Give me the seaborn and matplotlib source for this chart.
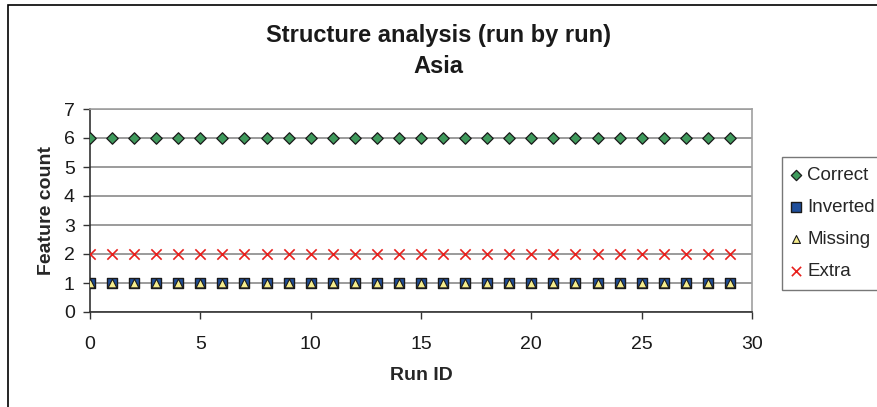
import matplotlib
matplotlib.use("Agg")
import matplotlib.pyplot as plt
from matplotlib.patches import Rectangle
import seaborn as sns
import pandas as pd

run_ids = list(range(30))
correct = [6] * 30
inverted = [1] * 30
missing = [1] * 30
extra = [2] * 30
series_names = ["Correct", "Inverted", "Missing", "Extra"]
x_ticks = [0, 5, 10, 15, 20, 25, 30]
y_ticks = [0, 1, 2, 3, 4, 5, 6, 7]

sns.set_theme(style="white")
plt.rcParams["font.family"] = ["Liberation Sans", "DejaVu Sans"]

df = pd.DataFrame({
    "Run ID": run_ids * 4,
    "Feature count": correct + inverted + missing + extra,
    "Series": sum([[n] * len(run_ids) for n in series_names], []),
})

fig = plt.figure(figsize=(8.77, 4.07), dpi=100)
ax = fig.add_axes([90 / 877, 1 - 312 / 407, 662 / 877, 203 / 407])

# outer chart frame
fig.patches.append(Rectangle((8 / 877, -0.05), 1.2, 1.05 - 5 / 407,
                             transform=fig.transFigure, fill=False,
                             edgecolor="black", linewidth=1.2, zorder=0))

styles = {
    "Correct": dict(marker="D", color="#3f9a5c", s=34, edgecolor="#1a1a1a", linewidth=0.9),
    "Inverted": dict(marker="s", color="#1f4f9c", s=62, edgecolor="#1a1a1a", linewidth=1.0),
    "Missing": dict(marker="^", color="#f5ec8c", s=40, edgecolor="#1a1a1a", linewidth=0.8),
    "Extra": dict(marker="x", color="#e8201c", s=55, linewidth=1.2),
}
for name in series_names:
    sub = df[df["Series"] == name]
    sns.scatterplot(data=sub, x="Run ID", y="Feature count", ax=ax,
                    label=name, zorder=3, **styles[name])

ax.set_xlim(0, 30)
ax.set_ylim(0, 7)
ax.set_xticks(x_ticks)
ax.set_yticks(y_ticks)
ax.yaxis.grid(True, color="#8a8a8a", linewidth=1.2)
ax.set_axisbelow(True)
ax.tick_params(axis="both", direction="out", length=5, width=1, color="#333333",
               labelsize=14, bottom=True, left=True, labelcolor="#1a1a1a", pad=6)
ax.tick_params(axis="x", pad=12)
for side in ["top", "right"]:
    ax.spines[side].set_color("#a0a0a0")
    ax.spines[side].set_linewidth(1.2)
for side in ["left", "bottom"]:
    ax.spines[side].set_color("#333333")
    ax.spines[side].set_linewidth(1.2)

ax.set_xlabel("Run ID", fontsize=14, fontweight="bold", labelpad=10)
ax.set_ylabel("Feature count", fontsize=14, fontweight="bold", labelpad=6)
fig.text(0.5, 1 - 51 / 407, "Structure analysis (run by run)\nAsia",
         ha="center", va="center", fontsize=17, fontweight="bold",
         linespacing=1.42, color="#1a1a1a")

leg = ax.legend(loc="upper left", bbox_to_anchor=(1.045, 0.764), frameon=True,
                fontsize=13.5, handletextpad=0.4, labelspacing=0.8,
                borderpad=0.52, handlelength=0.45, borderaxespad=0,
                markerscale=0.9, fancybox=False)
leg.get_frame().set_edgecolor("#555555")
leg.get_frame().set_linewidth(1.0)

fig.savefig("out.png", dpi=100)
